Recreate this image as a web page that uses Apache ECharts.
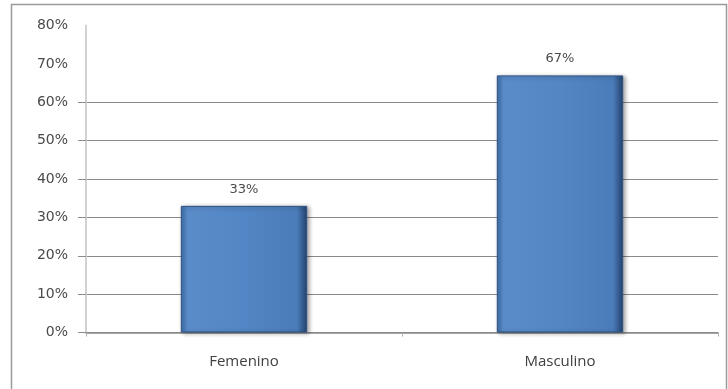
<!DOCTYPE html>
<html>
<head>
<meta charset="utf-8">
<script src="https://cdn.jsdelivr.net/npm/echarts@6/dist/echarts.min.js"></script>
<style>
  html, body { margin: 0; padding: 0; background: #fff; }
  #chart { width: 728px; height: 389px; }
</style>
</head>
<body>
<div id="chart"></div>
<script>
// Distribution by sex (percent)
const categories = ['Femenino', 'Masculino'];
const shares = [33, 67];
const yTicks = [0, 10, 20, 30, 40, 50, 60, 70, 80];
const gridTicks = [0, 10, 20, 30, 40, 50, 60];

const chart = echarts.init(document.getElementById('chart'), null, { renderer: 'canvas' });

// grid lines only up to 60%; upper ones left blank
const splitColors = yTicks.map(v => gridTicks.includes(v) ? '#8a8a8a' : 'rgba(0,0,0,0)');

const barFill = new echarts.graphic.LinearGradient(0, 0, 1, 0, [
  { offset: 0, color: '#3e6ea8' },
  { offset: 0.05, color: '#5a8cca' },
  { offset: 0.5, color: '#5386c4' },
  { offset: 0.92, color: '#4a7cb9' },
  { offset: 1, color: '#22426b' }
]);

chart.setOption({
  animation: false,
  backgroundColor: '#ffffff',
  graphic: [{
    type: 'rect',
    shape: { x: 11.5, y: 4.5, width: 715, height: 400 },
    style: { fill: 'none', stroke: '#9a9a9a', lineWidth: 1.5 },
    silent: true
  }],
  grid: { left: 86, right: 10, top: 25.5, bottom: 56.5 },
  xAxis: {
    type: 'category',
    data: categories,
    axisLine: { show: true, lineStyle: { color: '#8a8a8a', width: 1.5 } },
    axisTick: { show: true, length: 4, lineStyle: { color: '#b0b0b0' } },
    axisLabel: {
      margin: 22,
      fontFamily: 'Open Sans',
      fontSize: 15,
      color: '#404040'
    }
  },
  yAxis: {
    type: 'value',
    min: 0,
    max: 80,
    interval: 10,
    axisLine: { show: true, lineStyle: { color: '#d2d2d2', width: 2 } },
    axisTick: { show: true, inside: false, length: 8, customValues: gridTicks, lineStyle: { color: '#8a8a8a' } },
    axisLabel: {
      margin: 18,
      fontFamily: 'DejaVu Sans',
      fontSize: 14,
      color: '#4a4a4a',
      formatter: '{value}%'
    },
    splitLine: { show: true, lineStyle: { color: splitColors, width: 1.2 } }
  },
  series: [{
    type: 'bar',
    data: shares,
    barWidth: '40%',
    itemStyle: {
      color: barFill,
      borderColor: '#2d5282',
      borderWidth: 1,
      shadowColor: 'rgba(0,0,0,0.35)',
      shadowBlur: 4,
      shadowOffsetX: 2,
      shadowOffsetY: 1
    },
    label: {
      show: true,
      position: 'top',
      distance: 10,
      formatter: '{c}%',
      fontFamily: 'DejaVu Sans',
      fontSize: 13,
      color: '#4a4a4a'
    }
  }]
});
</script>
</body>
</html>
